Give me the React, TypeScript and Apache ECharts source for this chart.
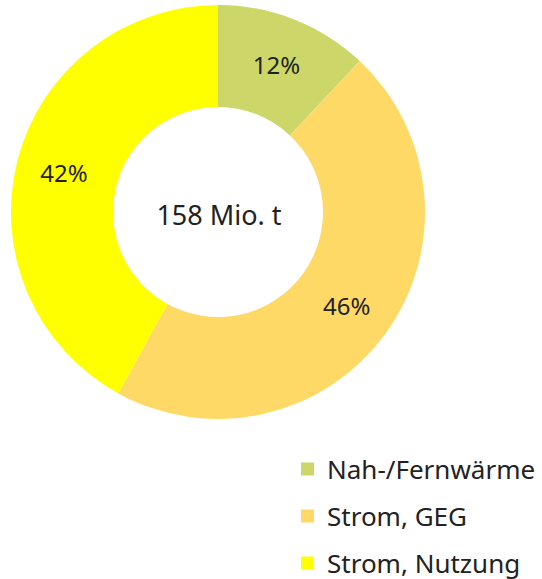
import React, { useEffect, useRef } from "react";
import * as echarts from "echarts";

const categories = ["Nah-/Fernwärme", "Strom, GEG", "Strom, Nutzung"];
const shares = [12, 46, 42];
const colors = ["#CDD769", "#FFD966", "#FFFF00"];
const centerLabel = "158 Mio. t";

export default function App() {
  const ref = useRef<HTMLDivElement>(null);
  useEffect(() => {
    if (!ref.current) return;
    const chart = echarts.init(ref.current, null, { renderer: "svg" });
    const font = "'Noto Sans', sans-serif";
    chart.setOption({
      animation: false,
      backgroundColor: "#ffffff",
      legend: {
        orient: "vertical",
        left: 301,
        top: 456,
        padding: 0,
        itemWidth: 13,
        itemHeight: 13,
        itemGap: 21,
        icon: "rect",
        data: categories,
        textStyle: {
          fontFamily: font,
          fontSize: 26,
          color: "#222222",
          lineHeight: 26,
          padding: [0, 0, 0, 8],
        },
      },
      graphic: [
        {
          type: "text",
          x: 219,
          y: 214,
          style: {
            text: centerLabel,
            fontFamily: font,
            fontSize: 27,
            fill: "#222222",
            textAlign: "center",
            textVerticalAlign: "middle",
          },
        },
      ],
      series: [
        {
          type: "pie",
          center: [218, 212],
          radius: [105, 207],
          startAngle: 90,
          clockwise: true,
          silent: true,
          label: {
            show: true,
            position: "inside",
            formatter: "{c}%",
            fontFamily: font,
            fontSize: 24,
            color: "#222222",
          },
          labelLine: { show: false },
          itemStyle: { borderWidth: 0 },
          data: categories.map((name, i) => ({
            name,
            value: shares[i],
            itemStyle: { color: colors[i] },
          })),
        },
      ],
    });
    return () => chart.dispose();
  }, []);
  return (
    <div
      ref={ref}
      style={{ position: "fixed", left: 0, top: 0, width: 542, height: 579 }}
    />
  );
}
